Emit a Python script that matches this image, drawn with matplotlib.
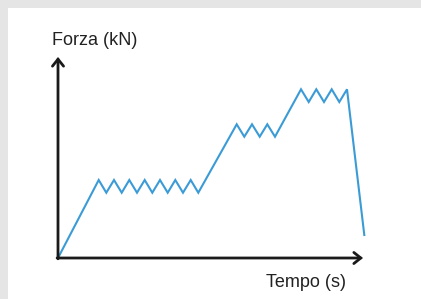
import matplotlib
matplotlib.use("Agg")
import matplotlib.pyplot as plt
from matplotlib.patches import Rectangle

# Data (arbitrary units)
tempo = [0, 40.7, 48.3, 56, 63.7, 71.3, 79, 86.7, 94.3, 102, 109.7, 117.3, 125, 132.7, 140.3,
         178.7, 186.3, 194, 201.7, 209.3, 217,
         243, 250.7, 258.3, 266, 273.7, 281.3, 289, 306.3]
forza = [0, 78, 65.3, 78, 65.3, 78, 65.3, 78, 65.3, 78, 65.3, 78, 65.3, 78, 65.3,
         133.7, 121.3, 133.7, 121.3, 133.7, 121.3,
         168.7, 156, 168.7, 156, 168.7, 156, 168.7, 23]
x_label = "Tempo (s)"
y_label = "Forza (kN)"

W, H = 421, 299
fig = plt.figure(figsize=(W / 100, H / 100), dpi=100)
fig.patch.set_facecolor("#e5e5e5")
fig.patches.append(Rectangle((8 / W, 0), 1, 1 - 8 / H, transform=fig.transFigure,
                             facecolor="white", edgecolor="none", zorder=-10))

x0, y0 = 58, 258
x1, y1 = 363, 57
ax = fig.add_axes([x0 / W, (H - y0) / H, (x1 - x0) / W, (y0 - y1) / H])
ax.set_zorder(5)
ax.patch.set_visible(False)
ax.set_xlim(0, x1 - x0)
ax.set_ylim(0, y0 - y1)
ax.axis("off")

ax.plot(tempo, forza, color="#3b9bd6", lw=1.5, clip_on=False, solid_joinstyle="miter", zorder=2)

arrow_kw = dict(arrowstyle="->,head_length=0.5,head_width=0.4", color="#1a1a1a", lw=2,
                shrinkA=0, shrinkB=0, joinstyle="miter")
ax.annotate("", xy=(0, 1), xytext=(0, -0.004), xycoords="axes fraction", arrowprops=arrow_kw, zorder=3)
ax.annotate("", xy=(1, 0), xytext=(-0.003, 0), xycoords="axes fraction", arrowprops=arrow_kw, zorder=3)

fig.text(52 / W, 1 - 45 / H, y_label, family="Liberation Sans", fontsize=13,
         color="#222222", ha="left", va="baseline")
fig.text(346 / W, 1 - 287 / H, x_label, family="Liberation Sans", fontsize=13,
         color="#222222", ha="right", va="baseline")

fig.savefig("out.png", dpi=100)
